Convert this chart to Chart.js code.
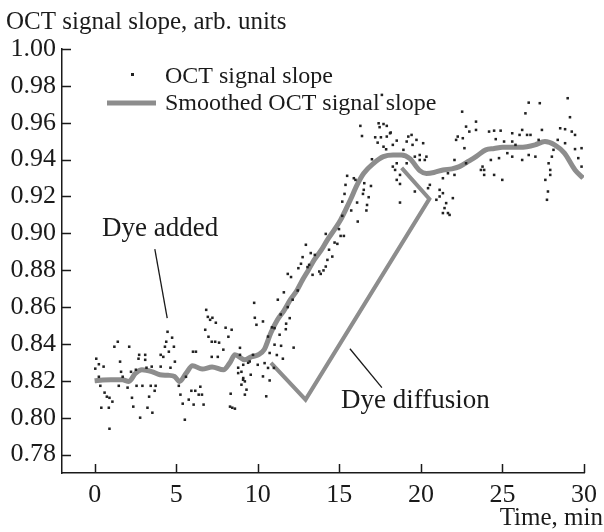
<!DOCTYPE html>
<html>
<head>
<meta charset="utf-8">
<script src="https://cdn.jsdelivr.net/npm/chart.js@4.4.0/dist/chart.umd.min.js"></script>
<style>
html,body{margin:0;padding:0;background:#fff;}
#wrap{width:604px;height:532px;position:relative;}
</style>
</head>
<body>
<div id="wrap"><canvas id="c" width="604" height="532"></canvas></div>
<script>
// ---- data ----
const xTicks = [0, 5, 10, 15, 20, 25, 30];
const yTicks = [0.78, 0.80, 0.82, 0.84, 0.86, 0.88, 0.90, 0.92, 0.94, 0.96, 0.98, 1.00];

const scatterTime = [
0.04,0.10,0.26,0.26,0.35,0.41,0.55,0.61,0.75,0.87,0.91,0.91,1.09,1.21,1.42,1.48,1.56,1.62,1.72,2.02,
2.12,2.23,2.29,2.37,2.53,2.57,2.69,2.73,2.79,2.93,3.10,3.10,3.18,3.24,3.34,3.44,3.50,3.54,3.68,3.74,
4.05,4.05,4.21,4.31,4.39,4.47,4.55,4.65,4.75,4.86,4.92,5.16,5.26,5.40,5.53,5.60,5.77,5.93,6.03,6.07,
6.17,6.21,6.38,6.48,6.58,6.68,6.78,6.84,6.94,6.98,7.08,7.18,7.18,7.22,7.39,7.43,7.55,7.63,7.89,8.03,
8.20,8.30,8.34,8.40,8.44,8.60,8.80,8.80,8.91,8.91,9.00,9.00,9.10,9.11,9.11,9.21,9.21,9.31,9.41,9.51,
9.57,9.71,9.78,9.82,9.92,10.00,10.32,10.32,10.42,10.52,10.63,10.63,10.73,10.73,10.87,10.99,11.03,11.03,11.17,11.23,
11.34,11.41,11.43,11.54,11.60,11.72,11.74,11.84,11.84,11.96,12.04,12.14,12.20,12.45,12.49,12.65,12.75,12.95,13.05,13.15,
13.25,13.36,13.50,13.77,13.86,14.03,14.17,14.17,14.27,14.37,14.57,14.71,14.88,14.98,15.08,15.18,15.18,15.28,15.32,15.38,
15.48,15.73,15.89,15.99,16.09,16.13,16.29,16.39,16.45,16.50,16.53,16.66,16.70,16.80,16.94,17.00,17.20,17.35,17.41,17.47,
17.55,17.61,17.71,17.71,17.87,17.91,17.91,18.11,18.15,18.28,18.28,18.42,18.52,18.52,18.52,18.72,18.72,18.72,18.93,19.13,
19.13,19.23,19.43,19.49,19.63,19.63,19.73,19.93,19.93,20.14,20.24,20.34,20.44,20.55,20.95,21.15,21.15,21.35,21.35,21.35,
21.45,21.55,21.66,21.66,21.76,21.96,22.06,22.06,22.16,22.26,22.53,22.57,22.67,22.77,22.77,22.97,23.38,23.38,23.68,23.78,
23.88,23.88,24.18,24.29,24.49,24.49,24.59,24.79,24.89,24.99,25.10,25.30,25.60,25.60,25.60,25.80,26.05,26.21,26.21,26.41,
26.51,26.61,26.61,26.72,27.02,27.22,27.29,27.42,27.63,27.73,27.79,27.83,27.93,27.93,28.03,28.13,28.39,28.54,28.84,28.84,
29.00,29.14,29.25,29.45,29.45,29.65,29.85,29.85
];
const scatterSlope = [
0.8266,0.832,0.829,0.8222,0.8173,0.8054,0.8277,0.8136,0.8114,0.8054,0.8108,0.794,0.8087,0.8385,0.8412,0.8173,0.8304,0.8249,0.8222,0.8163,
0.8385,0.8249,0.8108,0.806,0.826,0.8173,0.832,0.8341,0.800,0.8173,0.8341,0.8314,0.8271,0.8054,0.8114,0.8173,0.8277,0.8027,0.8146,0.8173,
0.8341,0.8277,0.833,0.8385,0.8412,0.8466,0.8358,0.8271,0.8434,0.8385,0.8304,0.8173,0.8125,0.8076,0.7989,0.8222,0.8098,0.8146,0.8358,0.8071,
0.8146,0.8358,0.8125,0.8168,0.8125,0.8071,0.8477,0.8585,0.8547,0.8439,0.8531,0.8412,0.833,0.8542,0.8412,0.8515,0.833,0.8407,0.8369,0.8488,
0.8439,0.806,0.813,0.8477,0.8054,0.8049,0.8271,0.8242,0.8379,0.8341,0.8249,0.8179,0.8206,0.8287,0.8215,0.8125,0.8197,0.8152,0.8298,0.8305,
0.8233,0.8341,0.8623,0.8542,0.8504,0.8287,0.8522,0.8224,0.8296,0.8116,0.844,0.827,0.8351,0.8202,0.849,0.827,0.8486,0.8396,0.834,0.864,
0.845,0.856,0.839,0.832,0.868,0.848,0.851,0.860,0.878,0.854,0.8763,0.864,0.838,0.869,0.8811,0.8835,0.8871,0.8938,0.8817,0.8829,
0.8893,0.8775,0.8883,0.8793,0.878,0.8799,0.8997,0.882,0.8856,0.8911,0.8874,0.895,0.8943,0.9023,0.8986,0.9172,0.9095,0.8986,0.9214,0.9263,
0.9312,0.9124,0.9299,0.929,0.9167,0.9064,0.9583,0.9528,0.9214,0.9236,0.9272,0.9124,0.9154,0.9196,0.9257,0.9402,0.9521,0.9492,0.9597,0.9576,
0.9521,0.9751,0.9593,0.947,0.9456,0.9583,0.9525,0.9543,0.9547,0.948,0.9362,0.9344,0.9503,0.938,0.929,0.9268,0.9167,0.9317,0.9453,0.9498,
0.938,0.9525,0.9534,0.948,0.9416,0.9227,0.9507,0.9425,0.9398,0.9489,0.9398,0.9416,0.9245,0.9263,0.9182,0.9236,0.920,0.9299,0.9218,0.911,
0.9137,0.9164,0.9326,0.911,0.910,0.9191,0.9398,0.9317,0.9507,0.9525,0.966,0.9516,0.9462,0.9579,0.938,0.9552,0.9606,0.9561,0.9344,0.9362,
0.9344,0.9317,0.9552,0.9398,0.9557,0.9317,0.9511,0.9408,0.9557,0.929,0.9498,0.9435,0.9498,0.9543,0.9416,0.948,0.9534,0.9561,0.9398,0.9651,
0.9534,0.9709,0.9425,0.9534,0.9416,0.9507,0.9706,0.9561,0.929,0.9182,0.9227,0.938,0.9344,0.9317,0.9416,0.9453,0.9507,0.957,0.9565,0.9489,
0.9733,0.963,0.9552,0.9534,0.9457,0.9408,0.9462,0.9362
];

const smoothTime = [0.0,0.5,1.0,1.7,2.1,2.5,2.9,3.5,4.0,4.5,4.9,5.2,5.6,6.0,6.6,7.2,7.9,8.3,8.6,9.2,9.6,10.0,10.4,10.8,11.2,11.6,12.0,12.4,12.75,13.1,13.46,13.9,14.27,14.7,15.08,15.4,15.68,16.09,16.5,17.1,17.7,18.3,18.8,19.33,19.93,20.34,20.8,21.35,21.9,22.36,22.9,23.38,23.98,24.5,25.0,25.5,26.0,26.5,27.0,27.6,28.2,28.8,29.45,29.95];
const smoothSlope = [0.820,0.8205,0.8206,0.8206,0.8197,0.824,0.826,0.825,0.8233,0.823,0.8224,0.8197,0.824,0.8282,0.8264,0.8275,0.826,0.830,0.8341,0.8314,0.833,0.834,0.837,0.846,0.853,0.858,0.864,0.869,0.8748,0.880,0.8856,0.891,0.8965,0.902,0.9073,0.913,0.9182,0.9263,0.9326,0.938,0.9416,0.9425,0.9425,0.9405,0.934,0.9325,0.933,0.9344,0.935,0.9362,0.939,0.9416,0.9453,0.946,0.9467,0.9467,0.9467,0.947,0.948,0.9498,0.948,0.9435,0.9344,0.930];

// "Dye diffusion" bracket and pointer lines (data coordinates)
const bracketTime = [10.81, 12.93, 20.52, 18.82];
const bracketSlope = [0.8298, 0.8098, 0.9187, 0.9355];
const dyeAddedPtrTime = [3.69, 4.45];
const dyeAddedPtrSlope = [0.8914, 0.854];
const diffusionPtrTime = [15.65, 17.61];
const diffusionPtrSlope = [0.8374, 0.8163];

const pts = (xs, ys) => xs.map((x, i) => ({x: x, y: ys[i]}));

const SERIF = '"Liberation Serif", "Times New Roman", Times, serif';
const INK = '#1a1a1a';
const GREY = '#8d8d8d';

const textPlugin = {
  id: 'extras',
  afterDraw(chart) {
    const ctx = chart.ctx;
    const xs = chart.scales.x, ys = chart.scales.y;
    const area = chart.chartArea;
    ctx.save();
    // inward tick marks
    ctx.strokeStyle = INK;
    ctx.lineWidth = 1.5;
    ctx.beginPath();
    xTicks.forEach(v => {
      const p = Math.round(xs.getPixelForValue(v)) + 0.5;
      ctx.moveTo(p, area.bottom);
      ctx.lineTo(p, area.bottom - 9);
    });
    yTicks.forEach(v => {
      const p = Math.round(ys.getPixelForValue(v)) + 0.5;
      ctx.moveTo(area.left, p);
      ctx.lineTo(area.left + 9, p);
    });
    ctx.stroke();

    ctx.fillStyle = INK;
    ctx.textBaseline = 'alphabetic';
    // axis titles
    ctx.font = '25px ' + SERIF;
    ctx.textAlign = 'left';
    ctx.fillText('OCT signal slope, arb. units', 6, 29);
    ctx.textAlign = 'right';
    ctx.fillText('Time, min', 603, 525);

    // legend
    ctx.font = '24px ' + SERIF;
    ctx.textAlign = 'left';
    ctx.fillStyle = '#222';
    ctx.fillRect(131, 73, 3, 3);
    ctx.fillStyle = INK;
    ctx.fillText('OCT signal slope', 165, 83);
    ctx.strokeStyle = GREY;
    ctx.lineWidth = 5;
    ctx.beginPath();
    ctx.moveTo(107, 103);
    ctx.lineTo(156, 103);
    ctx.stroke();
    ctx.fillText('Smoothed OCT signal slope', 165, 110);

    // annotations
    ctx.font = '27px ' + SERIF;
    ctx.fillText('Dye added', 102, 236);
    ctx.fillText('Dye diffusion', 341, 408);
    ctx.restore();
  }
};

function build() {
new Chart(document.getElementById('c'), {
  type: 'scatter',
  data: {
    datasets: [
      {
        label: 'OCT signal slope',
        data: pts(scatterTime, scatterSlope),
        pointStyle: 'rect',
        pointRadius: 1.8,
        pointBackgroundColor: '#222',
        pointBorderWidth: 0,
        showLine: false,
        order: 0
      },
      {
        label: 'Smoothed OCT signal slope',
        data: pts(smoothTime, smoothSlope),
        showLine: true,
        borderColor: GREY,
        borderWidth: 5,
        pointRadius: 0,
        tension: 0.3,
        cubicInterpolationMode: 'monotone',
        order: 2
      },
      {
        label: 'bracket',
        data: pts(bracketTime, bracketSlope),
        showLine: true,
        borderColor: GREY,
        borderWidth: 4,
        pointRadius: 0,
        tension: 0,
        order: 3
      },
      {
        label: 'ptr1',
        data: pts(dyeAddedPtrTime, dyeAddedPtrSlope),
        showLine: true,
        borderColor: INK,
        borderWidth: 1.3,
        pointRadius: 0,
        order: 1
      },
      {
        label: 'ptr2',
        data: pts(diffusionPtrTime, diffusionPtrSlope),
        showLine: true,
        borderColor: INK,
        borderWidth: 1.3,
        pointRadius: 0,
        order: 1
      }
    ]
  },
  options: {
    responsive: false,
    animation: false,
    devicePixelRatio: 1,
    layout: {padding: {left: 0, top: 49, right: 15, bottom: 0}},
    plugins: {legend: {display: false}, tooltip: {enabled: false}, title: {display: false}},
    scales: {
      x: {
        type: 'linear',
        min: -2, max: 30,
        afterBuildTicks: s => { s.ticks = xTicks.map(v => ({value: v})); },
        afterFit: s => { s.height = 59; },
        ticks: {font: {family: SERIF, size: 26}, color: INK, padding: 7, maxRotation: 0, autoSkip: false,
                callback: v => String(v)},
        grid: {display: true, drawOnChartArea: false, drawTicks: false},
        border: {display: true, color: INK, width: 1.5}
      },
      y: {
        type: 'linear',
        min: 0.77, max: 1.00,
        afterBuildTicks: s => { s.ticks = yTicks.map(v => ({value: v})); },
        afterFit: s => { s.width = 62; },
        ticks: {font: {family: SERIF, size: 26}, color: INK, padding: 6, autoSkip: false,
                callback: v => Number(v).toFixed(2)},
        grid: {display: true, drawOnChartArea: false, drawTicks: false},
        border: {display: true, color: INK, width: 1.5}
      }
    }
  },
  plugins: [textPlugin]
});
}
if (document.fonts && document.fonts.load) {
  Promise.all([document.fonts.load('25px "Liberation Serif"')]).then(build, build);
} else { build(); }
</script>
</body>
</html>
